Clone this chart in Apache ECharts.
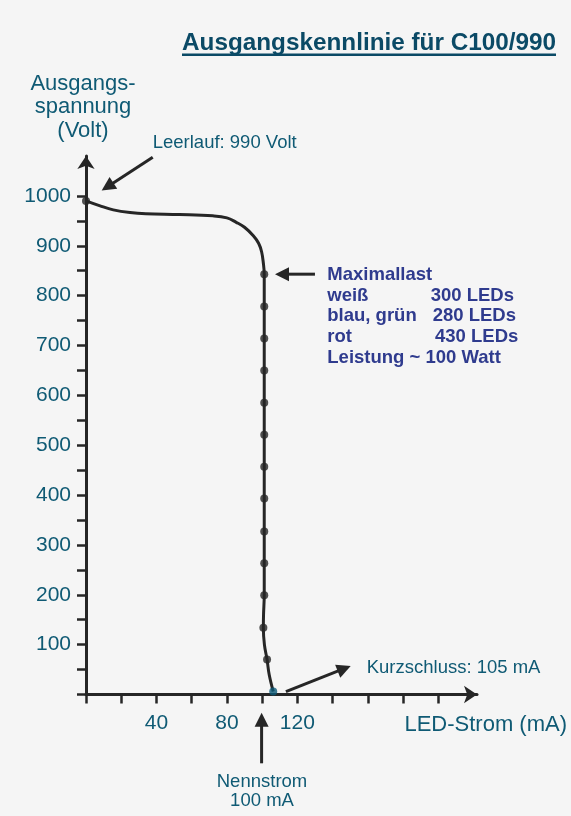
<!DOCTYPE html>
<html><head><meta charset="utf-8">
<script src="https://cdn.jsdelivr.net/npm/echarts@6/dist/echarts.min.js"></script>
<style>html,body{margin:0;padding:0;background:#f5f5f5;}#c{width:571px;height:816px;}</style>
</head><body><div id="c"></div><script>
// ---- data (mA, Volt) ----
const curveX = [0, 8, 15.5, 25, 34, 53, 72, 80, 85.3, 90, 95, 98, 99.7, 100.7, 101.2, 101.2, 101.2, 100.8, 100.7, 101.3, 102.8, 104, 106.3];
const curveY = [990, 980, 972, 966.5, 964, 962.5, 960, 956, 947, 937, 920, 905, 888, 865, 843, 500, 200, 160, 134, 100, 70, 40, 6];
const dotX = [0, 101.2, 101.2, 101.2, 101.2, 101.2, 101.2, 101.2, 101.2, 101.2, 101.2, 101.2, 100.7, 102.8];
const dotY = [990, 843, 778, 714, 650, 585, 521, 457, 393, 327, 263, 199, 134, 70];
const shortCircuitX = [106.3];
const shortCircuitY = [6];
const xTickValues = [0, 20, 40, 60, 80, 100, 120, 140, 160, 180, 200];
const xLabelValues = [40, 80, 120];
const yTickValues = [0, 50, 100, 150, 200, 250, 300, 350, 400, 450, 500, 550, 600, 650, 700, 750, 800, 850, 900, 950, 1000];
const yLabelValues = [100, 200, 300, 400, 500, 600, 700, 800, 900, 1000];
// annotation arrows in data units: [from, to]
const arrowLeerlauf = [[37.9, 1077.6], [8.9, 1010.6]];
const arrowMaximallast = [[130, 843], [107.3, 843]];
const arrowKurzschluss = [[113.5, 5.6], [150.3, 57.2]];
const arrowNennstrom = [[99.7, -138], [99.7, -36.5]];

const FONT = '"Liberation Sans", Arial, sans-serif';
const TEAL = '#0f5a74';
const DARK = '#262626';
const BLUE = '#2f3b8e';

const chart = echarts.init(document.getElementById('c'), null, {renderer: 'canvas'});
const zip = (a, b) => a.map((v, i) => [v, b[i]]);

chart.setOption({
  backgroundColor: '#f5f5f5',
  animation: false,
  grid: {left: 86, right: 94, top: 156, bottom: 121.5, containLabel: false},
  xAxis: {
    type: 'value', min: 0, max: 222,
    axisLine: {show: true, onZero: false, symbol: ['none', 'arrow'], symbolSize: [13, 13],
      lineStyle: {color: DARK, width: 3}},
    axisTick: {show: true, customValues: xTickValues, length: 9, lineStyle: {color: DARK, width: 2.5}},
    axisLabel: {show: true, customValues: xLabelValues, margin: 18, fontSize: 21, color: TEAL, fontFamily: FONT,
      formatter: v => String(v)},
    splitLine: {show: false}
  },
  yAxis: {
    type: 'value', min: 0, max: 1080,
    axisLine: {show: true, onZero: false, symbol: ['none', 'arrow'], symbolSize: [13, 13],
      lineStyle: {color: DARK, width: 3}},
    axisTick: {show: true, customValues: yTickValues, length: 9, lineStyle: {color: DARK, width: 2.5}},
    axisLabel: {show: true, customValues: yLabelValues, margin: 15, fontSize: 21, color: TEAL, fontFamily: FONT,
      formatter: v => String(v)},
    splitLine: {show: false}
  },
  series: [
    {type: 'line', data: zip(curveX, curveY), smooth: 0.4, showSymbol: false, clip: false,
      lineStyle: {color: DARK, width: 3}, z: 3},
    {type: 'scatter', data: zip(dotX, dotY), symbolSize: 8, itemStyle: {color: DARK}, clip: false, z: 4},
    {type: 'scatter', data: zip(shortCircuitX, shortCircuitY), symbolSize: 8, itemStyle: {color: '#0b5a78'}, clip: false, z: 5}
  ]
});

function arrowGraphics(pair) {
  const p0 = chart.convertToPixel({gridIndex: 0}, pair[0]);
  const p1 = chart.convertToPixel({gridIndex: 0}, pair[1]);
  const dx = p1[0] - p0[0], dy = p1[1] - p0[1];
  const len = Math.sqrt(dx * dx + dy * dy);
  const ux = dx / len, uy = dy / len;
  const L = 14, W = 7;
  const bx = p1[0] - L * ux, by = p1[1] - L * uy;
  return [
    {type: 'line', shape: {x1: p0[0], y1: p0[1], x2: bx + 2 * ux, y2: by + 2 * uy},
      style: {stroke: DARK, lineWidth: 3}, z: 10},
    {type: 'polygon', shape: {points: [[p1[0], p1[1]], [bx - W * uy, by + W * ux], [bx + W * uy, by - W * ux]]},
      style: {fill: DARK}, z: 10}
  ];
}

function txt(text, x, y, opts) {
  return Object.assign({type: 'text', x: x, y: y, z: 20,
    style: Object.assign({text: text, fill: TEAL, font: '18.5px ' + FONT, align: 'left', verticalAlign: 'middle'}, opts || {})});
}

const g = [];
[arrowLeerlauf, arrowMaximallast, arrowKurzschluss, arrowNennstrom].forEach(a => g.push(...arrowGraphics(a)));
// title
g.push(txt('Ausgangskennlinie für C100/990', 182, 43.7, {font: 'bold 24.3px ' + FONT, fill: '#0b4a66'}));
g.push({type: 'line', shape: {x1: 182, y1: 54.8, x2: 556, y2: 54.8}, style: {stroke: '#0b4a66', lineWidth: 2.5}, z: 20});
// y axis name
g.push(txt('Ausgangs-', 83, 83.5, {font: '22px ' + FONT, align: 'center'}));
g.push(txt('spannung', 83, 107.4, {font: '22px ' + FONT, align: 'center'}));
g.push(txt('(Volt)', 83, 131, {font: '22px ' + FONT, align: 'center'}));
// x axis name
g.push(txt('LED-Strom (mA)', 567, 725.1, {font: '22px ' + FONT, align: 'right'}));
// annotations
g.push(txt('Leerlauf: 990 Volt', 152.7, 143.3));
g.push(txt('Kurzschluss: 105 mA', 366.7, 667.8));
g.push(txt('Nennstrom', 262, 781.5, {align: 'center'}));
g.push(txt('100 mA', 262, 800.5, {align: 'center'}));
const B = {font: 'bold 18.5px ' + FONT, fill: BLUE};
g.push(txt('Maximallast', 327.3, 274.8, B));
g.push(txt('weiß', 327.3, 295.6, B));
g.push(txt('300 LEDs', 430.7, 295.6, B));
g.push(txt('blau, grün', 327.3, 316.4, B));
g.push(txt('280 LEDs', 432.7, 316.4, B));
g.push(txt('rot', 327.3, 337.2, B));
g.push(txt('430 LEDs', 435, 337.2, B));
g.push(txt('Leistung ~ 100 Watt', 327.3, 358, B));

chart.setOption({graphic: {elements: g}});
</script></body></html>
